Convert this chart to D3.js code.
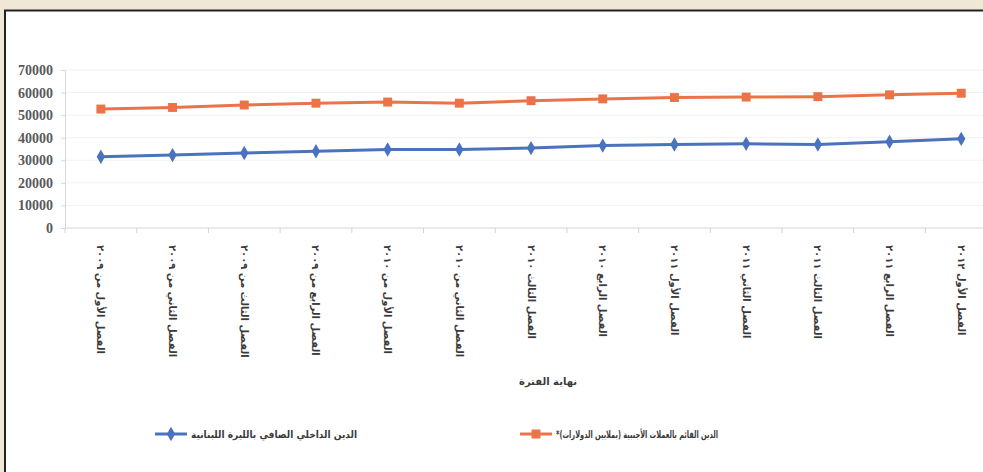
<!DOCTYPE html>
<html><head><meta charset="utf-8">
<script src="https://cdn.jsdelivr.net/npm/d3@7"></script>
<style>html,body{margin:0;padding:0;background:#EFE8D6;}svg{display:block;}</style>
</head><body>
<svg id="chart" width="983" height="472"></svg>
<script>
const categories = [
  "الفصل الأول من ٢٠٠٩","الفصل الثاني من ٢٠٠٩","الفصل الثالث من ٢٠٠٩","الفصل الرابع من ٢٠٠٩",
  "الفصل الأول من ٢٠١٠","الفصل الثاني من ٢٠١٠","الفصل الثالث ٢٠١٠","الفصل الرابع ٢٠١٠",
  "الفصل الأول ٢٠١١","الفصل الثاني ٢٠١١","الفصل الثالث ٢٠١١","الفصل الرابع ٢٠١١","الفصل الأول ٢٠١٢"
];
const foreignDebt = [52700, 53400, 54500, 55300, 55800, 55300, 56400, 57200, 57800, 58000, 58200, 59000, 59700];
const domesticDebt = [31600, 32300, 33200, 34000, 34800, 34800, 35400, 36500, 37000, 37300, 37000, 38200, 39500];
const yTicks = [0, 10000, 20000, 30000, 40000, 50000, 60000, 70000];
const seriesNames = ["الدين الداخلي الصافي بالليرة اللبنانية", "الدين القائم بالعملات الأجنبية (بملايين الدولارات)*"];
const axisTitle = "نهاية الفترة";

const svg = d3.select("#chart");
const W = 983, H = 472;
svg.append("rect").attr("width", W).attr("height", H).attr("fill", "#EFE8D6");
svg.append("rect").attr("x", 5).attr("y", 11).attr("width", W - 5).attr("height", H - 11).attr("fill", "#fff");
svg.append("line").attr("x1", 4).attr("x2", W).attr("y1", 10.5).attr("y2", 10.5).attr("stroke", "#222").attr("stroke-width", 2);
svg.append("line").attr("x1", 5).attr("x2", 5).attr("y1", 10).attr("y2", H).attr("stroke", "#222").attr("stroke-width", 2);

const x = d3.scaleBand().domain(categories).range([65, 65 + 13 * 71.7]);
const y = d3.scaleLinear().domain([0, 70000]).range([228, 70]);
const cx = c => x(c) + x.bandwidth() / 2;

// gridlines
svg.append("g").selectAll("line").data(yTicks.slice(1)).join("line")
  .attr("x1", 65).attr("x2", W).attr("y1", d => y(d)).attr("y2", d => y(d))
  .attr("stroke", "#f2f2f2").attr("stroke-width", 1);

// y axis
const ya = svg.append("g").attr("transform", "translate(65,0)")
  .call(d3.axisLeft(y).tickValues(yTicks).tickSize(4).tickPadding(8).tickFormat(d3.format("d")));
ya.select(".domain").attr("stroke", "#d8d8d8");
ya.selectAll(".tick line").attr("stroke", "#d8d8d8");
ya.selectAll(".tick text").attr("font-family", "Liberation Serif, serif").attr("font-weight", "bold")
  .attr("font-size", 14).attr("fill", "#5a5a5a");

// x axis baseline + boundary ticks
const xa = svg.append("g").attr("transform", "translate(0,228)");
xa.append("line").attr("x1", 65).attr("x2", W).attr("stroke", "#d4d4d4");
xa.selectAll(".bt").data(categories).join("line").attr("class", "bt")
  .attr("x1", d => x(d)).attr("x2", d => x(d)).attr("y1", 0).attr("y2", 5).attr("stroke", "#d4d4d4");
xa.selectAll(".lbl").data(categories).join("text").attr("class", "lbl")
  .attr("transform", d => `translate(${cx(d)},17) rotate(90)`)
  .attr("text-anchor", "start").attr("dy", "0.35em")
  .attr("font-family", "DejaVu Sans, sans-serif").attr("font-weight", "bold").attr("font-size", 10)
  .attr("fill", "#3a3a3a").text(d => d);

// lines
const line = d3.line().x((d, i) => cx(categories[i])).y(d => y(d));
const ORANGE = "#EA7448", BLUE = "#4A72BE";
svg.append("path").datum(foreignDebt).attr("d", line).attr("fill", "none").attr("stroke", ORANGE).attr("stroke-width", 3);
svg.append("path").datum(domesticDebt).attr("d", line).attr("fill", "none").attr("stroke", BLUE).attr("stroke-width", 3);
const sq = d3.symbol().type(d3.symbolSquare).size(80);
const dm = d3.symbol().type(d3.symbolDiamond).size(60);
svg.append("g").selectAll("path").data(foreignDebt).join("path")
  .attr("d", sq).attr("transform", (d, i) => `translate(${cx(categories[i])},${y(d)})`).attr("fill", ORANGE);
svg.append("g").selectAll("path").data(domesticDebt).join("path")
  .attr("d", dm).attr("transform", (d, i) => `translate(${cx(categories[i])},${y(d)})`).attr("fill", BLUE);

// axis title
svg.append("text").attr("x", 548).attr("y", 381).attr("dy", "0.35em").attr("text-anchor", "middle")
  .attr("font-family", "DejaVu Sans, sans-serif").attr("font-weight", "bold").attr("font-size", 10)
  .attr("fill", "#3a3a3a").text(axisTitle);

// legend
const legend = [
  {name: seriesNames[0], color: BLUE, sym: dm, x: 155, len: 166},
  {name: seriesNames[1], color: ORANGE, sym: sq, x: 520, len: 162}
];
const lg = svg.append("g").selectAll("g").data(legend).join("g").attr("transform", d => `translate(${d.x},434)`);
lg.append("line").attr("x1", 0).attr("x2", 32).attr("stroke", d => d.color).attr("stroke-width", 3);
lg.append("path").attr("d", d => d.sym()).attr("transform", "translate(16,0)").attr("fill", d => d.color);
lg.append("text").attr("x", 36).attr("dy", "0.35em").attr("direction", "rtl").attr("text-anchor", "end")
  .attr("textLength", d => d.len).attr("lengthAdjust", "spacingAndGlyphs")
  .attr("font-family", "DejaVu Sans, sans-serif").attr("font-weight", "bold").attr("font-size", 10)
  .attr("fill", "#3a3a3a").text(d => d.name);
</script>
</body></html>
